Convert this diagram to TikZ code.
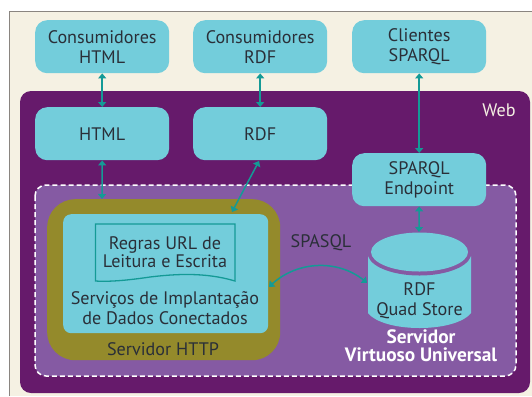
\documentclass[tikz,border=0pt]{standalone}
\usepackage{fontspec}
\setmainfont{PT Sans}
\usetikzlibrary{arrows.meta,bending}
\definecolor{cream}{HTML}{F5F1E3}
\definecolor{frameline}{HTML}{8A8580}
\definecolor{webpurple}{HTML}{661A6B}
\definecolor{lightpurple}{HTML}{855AA3}
\definecolor{olive}{HTML}{948A2B}
\definecolor{cyanbox}{HTML}{73CDDB}
\definecolor{teal}{HTML}{149A96}
\definecolor{ink}{HTML}{2A2F38}
\tikzset{
  x=1bp,y=-1bp,
  cbox/.style={fill=cyanbox,rounded corners=12bp,minimum width=134bp,minimum height=53bp,inner sep=0pt,
    align=center,text=ink,font=\fontsize{18.2}{20}\selectfont,anchor=north west},
  link/.style={draw=teal,line width=1.5bp,{Triangle[width=8bp,length=5bp]}-{Triangle[width=8bp,length=5bp]}},
  lab/.style={text=ink,font=\fontsize{18.2}{20}\selectfont,align=center,inner sep=0pt},
}
\begin{document}
\begin{tikzpicture}
\useasboundingbox (0,0) rectangle (532,396);
\fill[white] (0,0) rectangle (532,396);
\fill[cream] (9,11) rectangle (532,396);
\draw[frameline,line width=1bp] (9,396) -- (9,11) -- (532,11);
\fill[webpurple,rounded corners=11bp] (20,91) rectangle (530,393);
\node[text=cream,font=\fontsize{18.2}{19}\selectfont,inner sep=0pt] (web) at (499,110) {Web};
\fill[lightpurple,rounded corners=11bp] (35,185) rectangle (516,376);
\draw[white,line width=1.5bp,dash pattern=on 5bp off 3bp,rounded corners=11bp] (35,185) rectangle (516,376);
\node[fill=olive,rounded corners=28bp,minimum width=233bp,minimum height=161bp,inner sep=0pt,anchor=north west] (http) at (47,199) {};
\node[fill=cyanbox,rounded corners=8bp,minimum width=205bp,minimum height=119bp,inner sep=0pt,anchor=north west] (svc) at (63,214) {};
\node[lab] (httplab) at (163,349) {Servidor HTTP};
\draw[teal,line width=1.3bp] (95.5,224) -- (235,224) -- (235,281)
   .. controls (205,272) and (175,274) .. (150,277) .. controls (130,280) and (110,282) .. (95.5,281) -- cycle;
\node[lab] (rules) at (165,252) {Regras URL de\\[-1.5bp]Leitura e Escrita};
\node[lab] (svclab) at (165,308) {Serviços de Implantação\\de Dados Conectados};
\node[cbox] (c1) at (35,20) {Consumidores\\HTML};
\node[cbox] (c2) at (193,20) {Consumidores\\RDF};
\node[cbox] (c3) at (352,20) {Clientes\\SPARQL};
\node[cbox] (h) at (35,107) {HTML};
\node[cbox] (r) at (193,107) {RDF};
\node[cbox] (e) at (352,153) {SPARQL\\Endpoint};
% cylinder
\fill[cyanbox] (368,256) -- (368,313) .. controls (375,322) and (395,328) .. (419.5,328) .. controls (444,328) and (464,322) .. (471,313) -- (471,256) -- cycle;
\fill[lightpurple] (368,256) .. controls (372,268) and (395,275.5) .. (419.5,275.5) .. controls (444,275.5) and (467,268) .. (471,256) -- (471,250) -- (368,250) -- cycle;
\fill[cyanbox] (419.5,252) ellipse [x radius=48.5, y radius=19.5];
\coordinate (cyltop) at (419,232);
\coordinate (cylwest) at (367,283);
\node[lab] (q) at (419.5,300.5) {RDF\\Quad Store};
\node[lab,text=white,font=\fontsize{19.4}{18.5}\selectfont\bfseries] (sv) at (421,346) {Servidor\\Virtuoso Universal};
\node[lab] (sp) at (321,243) {SPASQL};
\coordinate (svce) at (269,287);
\coordinate (httparrow) at (102,199);
\coordinate (rdfarrow) at (259,161);
\coordinate (rdfin) at (232,212);
\draw[link] (c1.south) -- (h.north);
\draw[link] (c2.south) -- (r.north);
\draw[link] (c3.south) -- (e.north);
\draw[link] (h.south) -- (httparrow);
\draw[link] (rdfarrow) -- (rdfin);
\draw[link] (e.south) -- (cyltop);
\draw[link,{Triangle[width=8bp,length=5bp,bend]}-{Triangle[width=8bp,length=5bp,bend]}] (svce) .. controls (295,260) and (340,258) .. (cylwest);
\end{tikzpicture}
\end{document}
